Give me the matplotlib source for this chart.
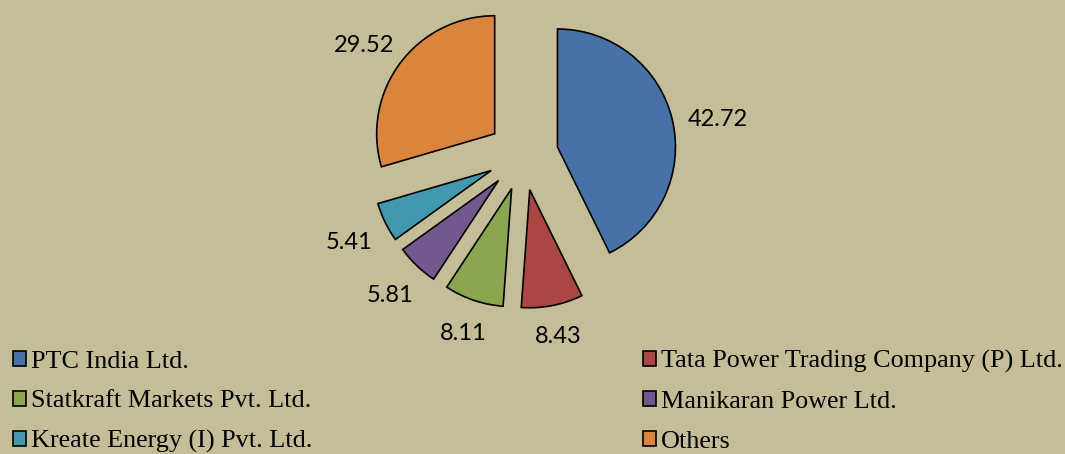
import numpy as np
import matplotlib
matplotlib.use("Agg")
import matplotlib.pyplot as plt

companies = ["PTC India Ltd.", "Tata Power Trading Company (P) Ltd.",
             "Statkraft Markets Pvt. Ltd.", "Manikaran Power Ltd.",
             "Kreate Energy (I) Pvt. Ltd.", "Others"]
shares = [42.72, 8.43, 8.11, 5.81, 5.41, 29.52]
colors = ["#4672A8", "#AA4644", "#8AA64F", "#71588F", "#4298AF", "#DB843D"]
bg = "#C4BD97"

fig = plt.figure(figsize=(10.65, 4.54), dpi=100, facecolor=bg)
ax = fig.add_axes([0, 0, 1, 1])

R = 118
cx, cy = 523, 299
wedges, _ = ax.pie(shares, colors=colors, startangle=90, counterclock=False,
                   radius=R, center=(cx, cy), explode=[0.3 * R] * len(shares),
                   wedgeprops=dict(edgecolor="black", linewidth=1.2),
                   frame=True)
ax.set_xlim(0, 1065)
ax.set_ylim(0, 454)
ax.set_aspect("equal")
ax.axis("off")

# value labels just outside each slice
fig.canvas.draw()
renderer = fig.canvas.get_renderer()
gap = 15
for w, v in zip(wedges, shares):
    th = np.deg2rad((w.theta1 + w.theta2) / 2)
    dx, dy = np.cos(th), np.sin(th)
    t = ax.text(0, 0, f"{v:.2f}", fontsize=17, family="Lato",
                ha="center", va="center_baseline", color="black")
    bb = t.get_window_extent(renderer)
    ext = abs(dx) * bb.width / 2 + abs(dy) * bb.height / 2
    d = w.r + gap + ext
    x, y = w.center[0] + d * dx, w.center[1] + d * dy
    if dy > 0:
        y -= 8  # top labels sit a bit lower in the original
    t.set_position((x, y))

order = [0, 2, 4, 1, 3, 5]
fig.legend([wedges[i] for i in order], [companies[i] for i in order],
           loc="upper left", bbox_to_anchor=(13 / 1065, 0, 1050 / 1065, 104 / 454),
           mode="expand", ncol=2, frameon=False,
           prop=dict(family="Liberation Serif", size=18.8),
           handlelength=0.5, handleheight=0.5, handletextpad=0.2,
           labelspacing=0.68, borderaxespad=0, borderpad=0)

fig.savefig("out.png", dpi=100, facecolor=bg)
